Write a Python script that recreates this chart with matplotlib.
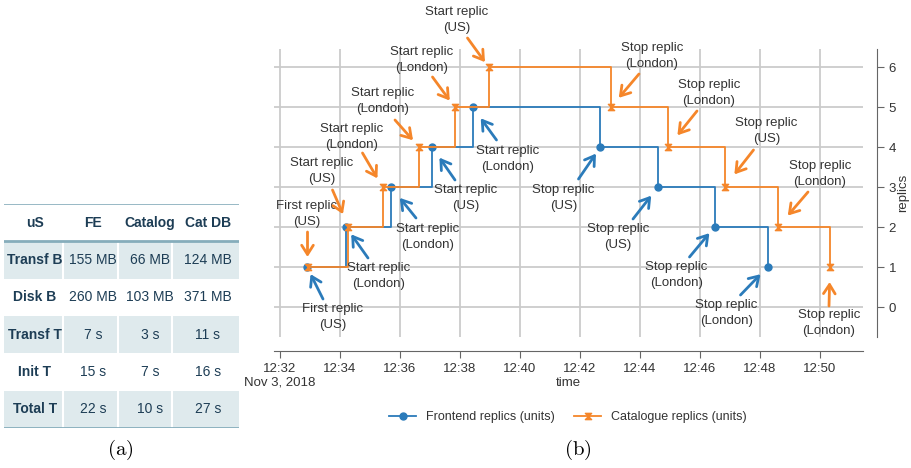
import matplotlib.pyplot as plt
import matplotlib.dates as mdates
import pandas as pd
from matplotlib.path import Path
from matplotlib.ticker import FuncFormatter

plt.rcParams['font.family'] = ['Liberation Sans', 'DejaVu Sans']
plt.rcParams['mathtext.fontset'] = 'cm'

# --- table (a) ---
table_cols = ['uS', 'FE', 'Catalog', 'Cat DB']
table_rows = ['Transf B', 'Disk B', 'Transf T', 'Init T', 'Total T']
table_vals = [['155 MB', '66 MB', '124 MB'],
              ['260 MB', '103 MB', '371 MB'],
              ['7 s', '3 s', '11 s'],
              ['15 s', '7 s', '16 s'],
              ['22 s', '10 s', '27 s']]

# --- replicas over time (b) ---
day = '2018-11-03 '
fe_times = ['12:32:54', '12:34:12', '12:35:42', '12:37:04', '12:38:25',
            '12:42:41', '12:44:36', '12:46:29', '12:48:15']
fe_replicas = [1, 2, 3, 4, 5, 4, 3, 2, 1]
fe_notes = ['First replic\n(US)', 'Start replic\n(London)', 'Start replic\n(London)',
            'Start replic\n(US)', 'Start replic\n(London)', 'Stop replic\n(US)',
            'Stop replic\n(US)', 'Stop replic\n(London)', 'Stop replic\n(London)']

cat_times = ['12:32:55', '12:34:17', '12:35:25', '12:36:38', '12:37:49', '12:38:57',
             '12:43:02', '12:44:56', '12:46:49', '12:48:36', '12:50:20']
cat_replicas = [1, 2, 3, 4, 5, 6, 5, 4, 3, 2, 1]
cat_notes = ['First replic\n(US)', 'Start replic\n(US)', 'Start replic\n(London)',
             'Start replic\n(London)', 'Start replic\n(London)', 'Start replic\n(US)',
             'Stop replic\n(London)', 'Stop replic\n(London)', 'Stop replic\n(US)',
             'Stop replic\n(London)', 'Stop replic\n(London)']

# annotation layout, pixel offsets from the marker: text centre, arrow tail, gap at tip
fe_text_off = [(26, -50), (33, -49), (37, -50), (34, -51), (35, -52),
               (-37, -51), (-40, -50), (-38, -48), (-41, -46)]
fe_tail_off = [(16, -32), (22, -31), (25, -31), (23, -33), (24, -33),
               (-22, -32), (-25, -32), (-25, -30), (-27, -28)]
fe_gap = [8, 9, 14, 13, 14, 8, 11, 8, 10]

cat_text_off = [(-1, 53), (-27, 56), (-31, 50), (-36, 46), (-33, 47), (-32, 47),
                (41, 51), (41, 54), (42, 56), (42, 53), (-1, -56)]
cat_tail_off = [(0, 35), (-16, 37), (-20, 34), (-24, 27), (-22, 30), (-21, 29),
                (28, 33), (29, 36), (29, 37), (30, 35), (-1, -39)]
cat_gap = [10, 14, 10, 9, 8, 6, 12, 15, 16, 15, 15]

blue = '#2b7bba'
orange = '#f5862a'
txt = '#333333'

fe_t = pd.to_datetime([day + t for t in fe_times])
cat_t = pd.to_datetime([day + t for t in cat_times])

hourglass = Path([(-1, 1), (1, 1), (0, 0), (-1, 1), (-1, -1), (1, -1), (0, 0), (-1, -1)],
                 [Path.MOVETO, Path.LINETO, Path.LINETO, Path.CLOSEPOLY,
                  Path.MOVETO, Path.LINETO, Path.LINETO, Path.CLOSEPOLY])

fig = plt.figure(figsize=(9.12, 4.68), dpi=100)

# ---------------- table ----------------
ax_t = fig.add_axes([4 / 912, 1 - 428 / 468, 235 / 912, 224 / 468])
ax_t.set_xlim(0, 235)
ax_t.set_ylim(224, 0)
ax_t.axis('off')
row_h = 224 / 6
col_centers = [31, 89, 146, 204]
col_edges = [59, 114, 168]
tcol = '#1d3d55'
line_col = '#86adbb'

for i in range(len(table_rows)):
    y0 = (i + 1) * row_h
    if i % 2 == 0:
        ax_t.axhspan(y0, y0 + row_h, color='#dfeaed', lw=0)
        for e in col_edges:
            ax_t.plot([e, e], [y0, y0 + row_h], color='white', lw=1.5)
ax_t.axhline(0, color=line_col, lw=1.2)
ax_t.axhline(row_h, color=line_col, lw=2)
ax_t.axhline(224, color=line_col, lw=2)

for j, c in enumerate(table_cols):
    ax_t.text(col_centers[j], row_h / 2, c, ha='center', va='center',
              fontsize=10, fontweight='bold', color=tcol)
for i, r in enumerate(table_rows):
    yc = (i + 1.5) * row_h
    ax_t.text(col_centers[0], yc, r, ha='center', va='center',
              fontsize=10, fontweight='bold', color=tcol)
    for j, v in enumerate(table_vals[i]):
        ax_t.text(col_centers[j + 1], yc, v, ha='center', va='center',
                  fontsize=10, color=tcol)

# ---------------- step chart ----------------
ax = fig.add_axes([274 / 912, 1 - 337 / 468, 589 / 912, 288 / 468])
ax.plot(fe_t, fe_replicas, drawstyle='steps-post', color=blue, lw=1.3,
        marker='o', markersize=5, label='Frontend replics (units)')
ax.plot(cat_t, cat_replicas, drawstyle='steps-post', color=orange, lw=1.3,
        marker=hourglass, markersize=4.5, label='Catalogue replics (units)')

ax.set_ylim(-0.75, 6.45)
ax.set_xlim(pd.Timestamp(day + '12:31:48'), pd.Timestamp(day + '12:51:26'))
ax.xaxis.set_major_locator(mdates.MinuteLocator(byminute=range(0, 60, 2)))


def fmt_time(x, pos):
    d = mdates.num2date(x)
    s = d.strftime('%H:%M')
    if pos == 0:
        s += '\nNov 3, 2018'
    return s


ax.xaxis.set_major_formatter(FuncFormatter(fmt_time))
ax.set_yticks(range(0, 7))
ax.yaxis.tick_right()
ax.yaxis.set_label_position('right')
ax.grid(True, color='#cbcbcb', lw=1.3)
ax.set_axisbelow(True)
for s in ['top', 'left']:
    ax.spines[s].set_visible(False)
for s in ['bottom', 'right']:
    ax.spines[s].set_position(('outward', 10))
    ax.spines[s].set_color('#666666')
ax.tick_params(colors='#666666', labelcolor=txt, labelsize=9.5, length=5)

ax.set_xlabel('time', fontsize=9.5, color=txt)
ax.xaxis.set_label_coords(0.5, -0.16)
ax.xaxis.label.set_va('center')
ax.set_ylabel('replics', fontsize=9.5, color=txt)
ax.yaxis.set_label_coords(1.068, 0.5)
ax.yaxis.label.set_va('center')


def add_notes(times, vals, notes, text_off, tail_off, gaps, color):
    for t, v, n, to, ta, g in zip(times, vals, notes, text_off, tail_off, gaps):
        xy = (mdates.date2num(t), v)
        ax.annotate(n, xy=xy, xytext=to, textcoords='offset pixels',
                    ha='center', va='center', fontsize=9.5, color=txt,
                    linespacing=1.35)
        ax.annotate('', xy=xy, xytext=ta, textcoords='offset pixels',
                    arrowprops=dict(arrowstyle='->,head_length=0.55,head_width=0.35',
                                    color=color, lw=2, shrinkA=0,
                                    shrinkB=g * 0.72, mutation_scale=12))


add_notes(cat_t, cat_replicas, cat_notes, cat_text_off, cat_tail_off, cat_gap, orange)
add_notes(fe_t, fe_replicas, fe_notes, fe_text_off, fe_tail_off, fe_gap, blue)

fig.legend(loc='center', bbox_to_anchor=(568 / 912, 1 - 417 / 468), ncol=2,
           frameon=False, fontsize=9, handlelength=2.2, columnspacing=1.5,
           labelcolor=txt)

fig.text(120 / 912, 1 - 450 / 468, r'$\mathrm{(a)}$', ha='center', va='center', fontsize=15)
fig.text(578 / 912, 1 - 450 / 468, r'$\mathrm{(b)}$', ha='center', va='center', fontsize=15)

fig.savefig('out.png', dpi=100)
